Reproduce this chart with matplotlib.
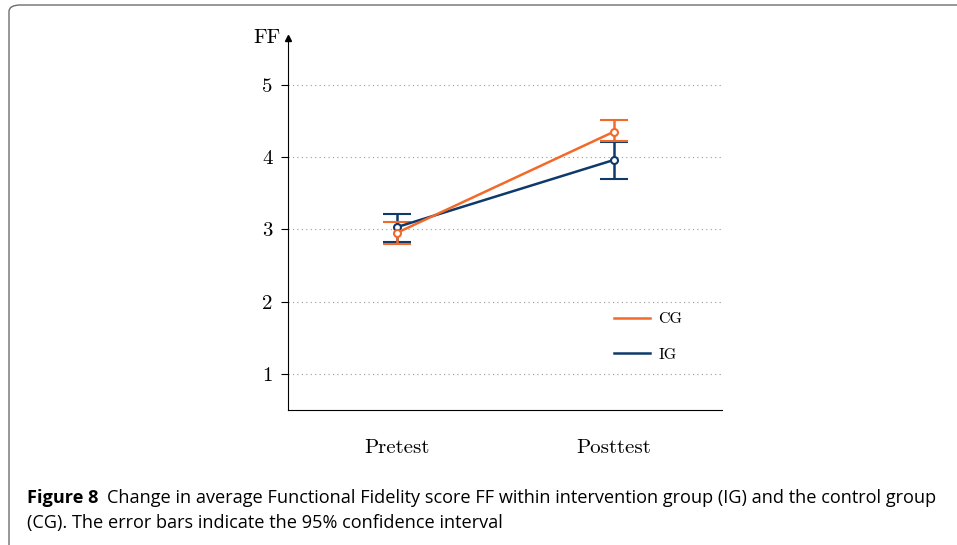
import matplotlib.pyplot as plt
from matplotlib.patches import FancyBboxPatch
from matplotlib.lines import Line2D
import numpy as np

phases = ["Pretest", "Posttest"]
cg_mean = [2.95, 4.35]
cg_low = [2.80, 4.23]
cg_high = [3.10, 4.52]
ig_mean = [3.03, 3.96]
ig_low = [2.83, 3.70]
ig_high = [3.22, 4.21]
yticks = [1, 2, 3, 4, 5]

orange = "#F26A2A"
navy = "#0D3A6B"
serif = "cmr10"

fig = plt.figure(figsize=(9.57, 5.45), dpi=100)

# rounded frame round the figure
frame = FancyBboxPatch((9 / 957, -0.1), 1.2, 1.1 - 5 / 545,
                       boxstyle="round,pad=0,rounding_size=0.012",
                       transform=fig.transFigure, fill=False, ec="#6d6d6d", lw=1.0)
fig.patches.append(frame)

ax = fig.add_axes([288 / 957, 1 - 410 / 545, 434 / 957, 372 / 545])
x = np.arange(len(phases))
for mean, lo, hi, col in [(ig_mean, ig_low, ig_high, navy),
                          (cg_mean, cg_low, cg_high, orange)]:
    mean = np.array(mean)
    err = [mean - np.array(lo), np.array(hi) - mean]
    ax.errorbar(x, mean, yerr=err, color=col, lw=1.8, elinewidth=1.8, capsize=10,
                capthick=1.8, marker="o", ms=5, mfc="white", mec=col, mew=1.5,
                zorder=3)

ax.set_xlim(-0.5, 1.5)
ax.set_ylim(0.5, 5.65)
ax.set_yticks(yticks)
ax.set_yticklabels([str(t) for t in yticks], fontfamily=serif, fontsize=15)
ax.set_xticks(x)
ax.set_xticklabels(phases, fontfamily=serif, fontsize=15)
ax.tick_params(axis="x", length=0, pad=21)
ax.tick_params(axis="y", length=5, width=0.8, pad=6)
for t in yticks:
    ax.axhline(t, color="#999999", lw=0.8, ls=(0, (1, 3)), zorder=1)
for s in ["top", "right"]:
    ax.spines[s].set_visible(False)
ax.spines["left"].set_linewidth(0.8)
ax.spines["bottom"].set_linewidth(0.8)
ax.plot(0, 1, "^k", ms=4, transform=ax.transAxes, clip_on=False)
ax.text(-0.018, 1.0, "FF", transform=ax.transAxes, ha="right", va="center",
        fontfamily=serif, fontsize=15)

handles = [Line2D([], [], color=orange, lw=1.8), Line2D([], [], color=navy, lw=1.8)]
ax.legend(handles, ["CG", "IG"], loc="center left", bbox_to_anchor=(1.0, 1.51),
          bbox_transform=ax.transData, frameon=False, borderpad=0, borderaxespad=0,
          handlelength=2.3, handletextpad=0.5, labelspacing=1.35,
          prop={"family": serif, "size": 11.5})

cap = dict(fontsize=13.1, fontfamily="Open Sans", va="baseline")
t1 = fig.text(27 / 957, 1 - 503 / 545, "Figure 8", fontweight="bold", **cap)
fig.canvas.draw()
bb = t1.get_window_extent()
fig.text((bb.x1 + 9) / 957, 1 - 503 / 545,
         "Change in average Functional Fidelity score FF within intervention group (IG) and the control group",
         **cap)
fig.text(27 / 957, 1 - 528 / 545, "(CG). The error bars indicate the 95% confidence interval", **cap)

fig.savefig("out.png", dpi=100)
